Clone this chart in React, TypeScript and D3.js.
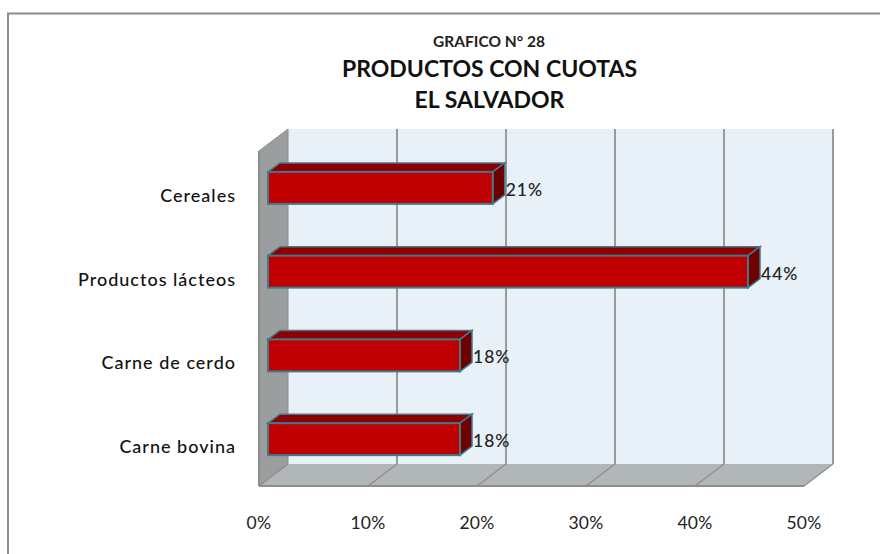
import React from "react";
import * as d3 from "d3";

const categories = ["Cereales", "Productos lácteos", "Carne de cerdo", "Carne bovina"];
const barValues = [20.6, 44, 17.6, 17.6];
const barLabels = ["21%", "44%", "18%", "18%"];
const ticks = [0, 10, 20, 30, 40, 50];
const titleLines = ["PRODUCTOS CON CUOTAS", "EL SALVADOR"];
const subTitle = "GRAFICO N° 28";

const FONT = "Lato, 'Open Sans', sans-serif";

export default function App() {
  const x = d3.scaleLinear().domain([0, 50]).range([259, 804]);
  const y = d3.scaleBand<string>().domain(categories).range([151, 486]);
  const dx = 29, dy = -22; // plot depth
  const top = 151, bottom = 486;
  const barStart = 268;
  const barW = d3.scaleLinear().domain([0, 44]).range([0, 480]);
  const bdx = 12, bdy = -9;
  const barH = 32;
  const poly = (p: [number, number][]) => p.map((q) => q.join(",")).join(" ");
  const edge = "#41788c";

  return (
    <svg width={880} height={554} style={{ position: "absolute", left: 0, top: 0, background: "#fff" }}>
      <rect x={8} y={13.5} width={900} height={600} fill="#fff" stroke="#8c8c8c" strokeWidth={2} />
      <text x={489} y={47} textAnchor="middle" fontFamily={FONT} fontWeight={700} fontSize={15.5} fill="#222">{subTitle}</text>
      {titleLines.map((t, i) => (
        <text key={t} x={489.5} y={77 + i * 31} textAnchor="middle" fontFamily={FONT} fontWeight={700} fontSize={23} fill="#111">{t}</text>
      ))}

      {/* back wall */}
      <rect x={x(0) + dx} y={top + dy} width={x(50) - x(0)} height={bottom - top} fill="#e8f1f8" />
      {/* left wall */}
      <polygon points={poly([[x(0), top], [x(0) + dx, top + dy], [x(0) + dx, bottom + dy], [x(0), bottom]])} fill="#9a9e9f" stroke="#8c8c8c" />
      {/* floor */}
      <polygon points={poly([[x(0), bottom], [x(0) + dx, bottom + dy], [x(50) + dx, bottom + dy], [x(50), bottom]])} fill="#b1b6b9" />
      <line x1={x(0)} x2={x(50)} y1={bottom} y2={bottom} stroke="#8c8c8c" strokeWidth={2} />
      <line x1={x(0)} x2={x(0)} y1={top} y2={bottom} stroke="#8c8c8c" strokeWidth={2} />
      {ticks.map((t) => (
        <g key={t}>
          {t > 0 && <line x1={x(t) + dx} x2={x(t) + dx} y1={top + dy} y2={bottom + dy} stroke="#9a9a9a" strokeWidth={2} />}
          <line x1={x(t)} x2={x(t) + dx} y1={bottom} y2={bottom + dy} stroke="#8c8c8c" strokeWidth={1.2} />
          <text x={x(t)} y={529} textAnchor="middle" fontFamily={FONT} fontSize={17.5} letterSpacing={0.3} fill="#222">{t}%</text>
        </g>
      ))}

      {categories.map((c, i) => {
        const yc = (y(c) as number) + y.bandwidth() / 2 + 3;
        const y0 = yc - barH / 2 - 8;
        const x0 = barStart, x1 = barStart + barW(barValues[i]), y1 = y0 + barH;
        return (
          <g key={c}>
            <polygon points={poly([[x0, y0], [x0 + bdx, y0 + bdy], [x1 + bdx, y0 + bdy], [x1, y0]])} fill="#8e0000" stroke={edge} strokeWidth={1.5} />
            <polygon points={poly([[x1, y0], [x1 + bdx, y0 + bdy], [x1 + bdx, y1 + bdy], [x1, y1]])} fill="#6e0000" stroke={edge} strokeWidth={1.5} />
            <rect x={x0} y={y0} width={x1 - x0} height={barH} fill="#c00000" stroke={edge} strokeWidth={2} />
            <text x={x1 + bdx + 1} y={yc} fontFamily={FONT} fontSize={17.5} letterSpacing={1} fontWeight={500} fill="#222">{barLabels[i]}</text>
            <text x={236} y={yc + 6} textAnchor="end" fontFamily={FONT} fontSize={18} letterSpacing={1} fontWeight={500} fill="#111">{c}</text>
          </g>
        );
      })}
    </svg>
  );
}
